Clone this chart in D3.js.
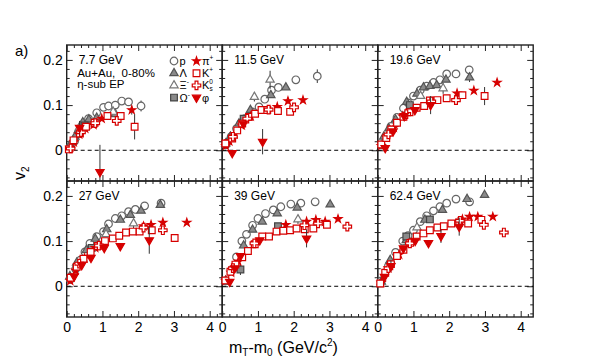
<!DOCTYPE html>
<html lang="en">
<head>
<meta charset="UTF-8">
<title>v2 vs mT-m0</title>
<style>
  body { margin: 0; background: #fff; }
  svg { font-family: "Liberation Sans", Arial, sans-serif; }
  .tick text { font-size: 14px; fill: #000; }
  .tick line { stroke: #222; stroke-width: 1; }
</style>
</head>
<body>
<script src="https://cdn.jsdelivr.net/npm/d3@7"></script>
<script>
// panel labels and ticks
const energies = ["7.7 GeV", "11.5 GeV", "19.6 GeV", "27 GeV", "39 GeV", "62.4 GeV"];
const xTicks = [0, 1, 2, 3, 4];
const yTicks = [0, 0.1, 0.2];
const yTickLabels = ["0", "0.1", "0.2"];

// [mT-m0, v2, error] for each energy, in the order of `energies`
const proton = [
  [[0.1,0.008],[0.22,0.02],[0.35,0.037],[0.48,0.055],[0.61,0.07],[0.84,0.083],[1.03,0.095],[1.17,0.098],[1.36,0.1],[1.54,0.109],[1.73,0.107],[2.08,0.098,0.012]],
  [[0.1,0.012],[0.25,0.03],[0.4,0.048],[0.52,0.06],[0.63,0.07],[0.84,0.085],[1.03,0.096],[1.19,0.113],[1.38,0.133],[1.57,0.139],[2.06,0.156],[2.66,0.164,0.015]],
  [[0.1,0.012],[0.22,0.028],[0.37,0.053],[0.54,0.073],[0.72,0.093],[0.85,0.105],[1.0,0.12],[1.19,0.133],[1.37,0.142],[1.56,0.15],[1.74,0.156],[1.93,0.169],[2.19,0.169],[2.56,0.178]],
  [[0.1,0.015],[0.25,0.038],[0.38,0.058],[0.51,0.076],[0.65,0.095],[0.84,0.11],[1.03,0.121],[1.17,0.138],[1.36,0.15],[1.54,0.156],[1.73,0.165],[1.92,0.17],[2.18,0.178],[2.64,0.184]],
  [[0.1,0.012],[0.25,0.035],[0.4,0.065],[0.55,0.1],[0.68,0.115],[0.85,0.135],[1.0,0.15],[1.21,0.161],[1.43,0.169],[1.64,0.176],[1.92,0.182],[2.2,0.184],[2.6,0.187]],
  [[0.1,0.012],[0.3,0.045],[0.5,0.075],[0.7,0.1],[0.85,0.112],[1.0,0.124],[1.19,0.143],[1.37,0.156],[1.56,0.167],[1.74,0.176],[1.93,0.184],[2.19,0.193],[2.57,0.187]]
];
const lambda = [
  [[0.1,0.012],[0.23,0.03],[0.33,0.045],[0.45,0.062],[0.62,0.068],[0.84,0.072],[1.36,0.08]],
  [[0.1,0.015],[0.23,0.03],[0.47,0.059],[0.79,0.089],[1.36,0.122],[1.78,0.139]],
  [[0.17,0.03],[0.31,0.048],[0.5,0.068],[0.81,0.107],[1.1,0.125],[1.28,0.139],[1.46,0.142],[1.65,0.144],[1.91,0.156],[2.57,0.161,0.01]],
  [[0.09,0.022],[0.28,0.052],[0.55,0.08],[0.8,0.105],[1.12,0.126],[1.5,0.147],[1.78,0.158],[2.08,0.167],[2.62,0.18]],
  [[0.1,0.012],[0.3,0.04],[0.6,0.09],[0.85,0.125],[1.12,0.143],[1.54,0.161],[2.1,0.174],[3.02,0.181]],
  [[0.1,0.01],[0.35,0.058],[0.8,0.102],[1.32,0.147],[1.81,0.169],[2.5,0.193],[2.99,0.202]]
];
const xi = [
  [[0.35,0.05],[1.3,0.085]],
  [[0.9,0.118,0.01],[1.34,0.156,0.02]],
  [[1.2,0.12],[1.83,0.137,0.012]],
  [[1.1,0.115],[1.87,0.139,0.01]],
  [[2.12,0.148,0.01]],
  [[1.1,0.13]]
];
const omega = [
  [[0.5,0.055]],
  [[0.6,0.07]],
  [[0.9,0.1]],
  [[0.7,0.085]],
  [[0.51,0.037,0.012],[1.56,0.133]],
  [[0.8,0.11],[1.46,0.148]]
];
const pion = [
  [[0.1,0.006],[0.2,0.018],[0.35,0.035],[0.52,0.048],[0.75,0.056],[0.98,0.07],[1.82,0.089,0.01]],
  [[0.1,0.01],[0.2,0.02],[0.35,0.036],[0.55,0.055],[0.8,0.075],[1.54,0.096],[1.84,0.109],[2.26,0.111]],
  [[0.1,0.01],[0.25,0.028],[0.45,0.05],[0.7,0.075],[2.22,0.126],[2.69,0.132],[3.34,0.15]],
  [[0.1,0.012],[0.25,0.035],[0.5,0.062],[0.8,0.085],[2.15,0.133],[2.36,0.136],[2.69,0.141],[3.36,0.141]],
  [[0.1,0.012],[0.25,0.03],[0.45,0.055],[1.78,0.136],[2.36,0.143],[2.62,0.147],[2.88,0.143],[3.24,0.149]],
  [[0.1,0.008],[0.3,0.04],[0.6,0.07],[2.37,0.148],[2.57,0.154],[2.8,0.154],[3.22,0.154]]
];
const kaon = [
  [[0.06,0.002],[0.19,0.022],[0.37,0.037],[0.54,0.052],[0.78,0.061],[1.14,0.076],[1.51,0.076],[1.9,0.052,0.028]],
  [[0.09,0.015],[0.28,0.026],[0.42,0.044],[0.56,0.059],[0.75,0.074],[0.92,0.081],[1.1,0.089],[1.26,0.089],[1.56,0.087],[1.9,0.085]],
  [[0.1,0.013],[0.24,0.027],[0.38,0.046],[0.54,0.061],[0.72,0.074],[0.89,0.084],[1.09,0.094],[1.3,0.098],[1.46,0.11],[1.67,0.111],[1.93,0.115],[2.37,0.122],[2.99,0.12,0.02]],
  [[0.11,0.019],[0.28,0.043],[0.47,0.061],[0.67,0.076],[0.87,0.089],[1.07,0.1],[1.29,0.106],[1.47,0.112],[1.66,0.119],[1.85,0.121],[2.04,0.121],[2.38,0.124],[3.02,0.107]],
  [[0.09,0.013],[0.23,0.032],[0.37,0.048],[0.56,0.064],[0.72,0.078],[0.91,0.093],[1.12,0.11],[1.31,0.11],[1.52,0.121],[1.71,0.123],[1.9,0.124],[2.08,0.128],[2.31,0.126],[2.55,0.128],[2.93,0.136]],
  [[0.07,0.006],[0.21,0.03],[0.37,0.049],[0.54,0.067],[0.72,0.081],[0.91,0.096],[1.09,0.11],[1.28,0.117],[1.46,0.124],[1.67,0.13],[1.85,0.133],[2.06,0.139],[2.28,0.141],[2.53,0.139],[2.9,0.147]]
];
const k0s = [
  [[0.11,0.004],[0.4,0.04],[0.8,0.06],[1.4,0.065]],
  [[0.3,0.03],[0.7,0.07],[1.3,0.09],[2.01,0.095]],
  [[0.3,0.035],[0.8,0.08],[1.5,0.108],[2.19,0.111]],
  [[0.35,0.05],[0.9,0.09],[2.15,0.13],[2.69,0.124]],
  [[0.3,0.04],[0.9,0.095],[2.3,0.135],[2.68,0.139],[3.5,0.132]],
  [[0.3,0.04],[0.9,0.095],[2.3,0.145],[2.97,0.136],[3.53,0.119]]
];
const phi = [
  [[0.36,0.05,0.015],[0.93,-0.048,0.06]],
  [[0.28,-0.006],[0.59,0.059],[1.13,0.019,0.028]],
  [[0.21,0.005],[0.43,0.042],[0.74,0.076],[1.04,0.089],[1.48,0.1,0.02]],
  [[0.21,0.022],[0.42,0.047],[0.68,0.063],[1.05,0.085],[1.5,0.089],[2.31,0.102,0.03]],
  [[0.21,0.01],[0.35,0.04],[0.51,0.067],[1.05,0.102],[2.36,0.106,0.02]],
  [[0.19,0.021],[0.37,0.045,0.012],[0.72,0.084],[1.05,0.101],[1.42,0.096],[1.77,0.111,0.015],[2.28,0.132,0.02]]
];

// marker styles
const red = "#d60000";
const series = [
  { data: proton, type: d3.symbolCircle,   size: 45, fill: "#fff",  stroke: "#666", rot: 0 },
  { data: lambda, type: d3.symbolTriangle, size: 30, fill: "#8a8a8a", stroke: "#555", rot: 0 },
  { data: xi,     type: d3.symbolTriangle, size: 30, fill: "#fff",  stroke: "#777", rot: 0 },
  { data: omega,  type: d3.symbolSquare,   size: 45, fill: "#8a8a8a", stroke: "#444", rot: 0 },
  { data: pion,   type: d3.symbolStar,     size: 19, fill: red, stroke: red, rot: 0 },
  { data: kaon,   type: d3.symbolSquare,   size: 45, fill: "#fff", stroke: red, rot: 0 },
  { data: k0s,    type: d3.symbolCross,    size: 40, fill: "#fff", stroke: red, rot: 0 },
  { data: phi,    type: d3.symbolTriangle, size: 30, fill: red, stroke: red, rot: 180 }
];

const width = 600, height = 363;
const left = 66.7, pw = 155.5;
const rowTop = [45, 181], ph = 136;
const xDomain = [0, 4.35], yDomain = [-0.068, 0.233];

const xMinor = d3.range(0.2, 4.3, 0.2).filter(v => Math.abs(v - Math.round(v)) > 0.01);
const yMinor = d3.range(-0.06, 0.23, 0.02).filter(v => Math.abs(v * 10 - Math.round(v * 10)) > 0.01);

const svg = d3.select("body").append("svg")
    .attr("width", width)
    .attr("height", height);

function addAxis(g, axis, tx, ty) {
    g.append("g")
        .attr("transform", "translate(" + tx + "," + ty + ")")
        .call(axis)
        .call(s => s.select(".domain").remove());
}

energies.forEach((label, i) => {
    const col = i % 3, row = Math.floor(i / 3);
    const x = d3.scaleLinear().domain(xDomain).range([left + col * pw, left + (col + 1) * pw]);
    const y = d3.scaleLinear().domain(yDomain).range([rowTop[row] + ph, rowTop[row]]);
    const x0 = x.range()[0], x1 = x.range()[1];
    const yb = y.range()[0], yt = y.range()[1];
    const g = svg.append("g");
    const none = () => "";

    // ticks, pointing inwards on all four sides
    addAxis(g, d3.axisLeft(y).tickValues(yTicks).tickSize(-6).tickPadding(4)
        .tickFormat(col === 0 ? (d, k) => yTickLabels[k] : none), x0, 0);
    addAxis(g, d3.axisLeft(y).tickValues(yMinor).tickSize(-3).tickFormat(none), x0, 0);
    addAxis(g, d3.axisRight(y).tickValues(yTicks).tickSize(-6).tickFormat(none), x1, 0);
    addAxis(g, d3.axisRight(y).tickValues(yMinor).tickSize(-3).tickFormat(none), x1, 0);
    addAxis(g, d3.axisBottom(x).tickValues(xTicks).tickSize(-6).tickPadding(5)
        .tickFormat(row === 1 ? d3.format("d") : none), 0, yb);
    addAxis(g, d3.axisBottom(x).tickValues(xMinor).tickSize(-3).tickFormat(none), 0, yb);
    addAxis(g, d3.axisTop(x).tickValues(xTicks).tickSize(-6).tickFormat(none), 0, yt);
    addAxis(g, d3.axisTop(x).tickValues(xMinor).tickSize(-3).tickFormat(none), 0, yt);

    g.append("rect")
        .attr("x", x0).attr("y", yt)
        .attr("width", x1 - x0).attr("height", yb - yt)
        .attr("fill", "none").attr("stroke", "#222").attr("stroke-width", 1.4);

    g.append("line")
        .attr("x1", x0).attr("x2", x1)
        .attr("y1", y(0)).attr("y2", y(0))
        .attr("stroke", "#000").attr("stroke-dasharray", "4,3");

    g.append("text")
        .attr("x", x0 + 12).attr("y", yt + 18.5)
        .attr("font-size", 12)
        .text(label);

    // markers
    const clampY = v => Math.max(yDomain[0], Math.min(yDomain[1], v));
    series.forEach(s => {
        const pts = s.data[i];
        g.selectAll(null)
            .data(pts.filter(d => d[2]))
            .enter().append("line")
            .attr("x1", d => x(d[0])).attr("x2", d => x(d[0]))
            .attr("y1", d => y(clampY(d[1] - d[2])))
            .attr("y2", d => y(clampY(d[1] + d[2])))
            .attr("stroke", "#333").attr("stroke-width", 1);
        g.selectAll(null)
            .data(pts)
            .enter().append("path")
            .attr("d", d3.symbol().type(s.type).size(s.size))
            .attr("transform", d => "translate(" + x(d[0]) + "," + y(d[1]) + ") rotate(" + s.rot + ")")
            .attr("fill", s.fill)
            .attr("stroke", s.stroke)
            .attr("stroke-width", 1.2);
    });
});

// description and legend in the first panel
const info = ["Au+Au,\u00a0 0-80%", "\u03b7-sub EP"];
svg.selectAll(".info")
    .data(info)
    .enter().append("text")
    .attr("x", left + 10.5).attr("y", (d, k) => 76.5 + k * 11.8)
    .attr("font-size", 11.5)
    .text(d => d);

const legendRows = [
    [{ s: 0, t: "p" }, { s: 4, t: "\u03c0", sup: "+" }],
    [{ s: 1, t: "\u039b" }, { s: 5, t: "K", sup: "+" }],
    [{ s: 2, t: "\u039e", sup: "-" }, { s: 6, t: "K", sup: "0", sub: "s" }],
    [{ s: 3, t: "\u03a9", sup: "-" }, { s: 7, t: "\u03c6" }]
];
const legX = [174, 196.5];
legendRows.forEach((r, k) => {
    const ly = 61 + k * 12.2;
    r.forEach((e, c) => {
        const s = series[e.s];
        svg.append("path")
            .attr("d", d3.symbol().type(s.type).size(s.size))
            .attr("transform", "translate(" + legX[c] + "," + ly + ") rotate(" + s.rot + ")")
            .attr("fill", s.fill).attr("stroke", s.stroke).attr("stroke-width", 1.2);
        const t = svg.append("text")
            .attr("x", legX[c] + 5.5).attr("y", ly + 4)
            .attr("font-size", 11);
        t.append("tspan").text(e.t);
        if (e.sup) t.append("tspan").attr("font-size", 6.5).attr("dy", -5).text(e.sup);
        if (e.sub) t.append("tspan").attr("font-size", 6.5).attr("dx", -3.5).attr("dy", 7).text(e.sub);
    });
});

// axis titles
svg.append("text")
    .attr("x", 15).attr("y", 56)
    .attr("font-size", 15)
    .text("a)");

const vt = svg.append("text")
    .attr("transform", "translate(25,180) rotate(-90)")
    .attr("font-size", 16);
vt.append("tspan").text("v");
vt.append("tspan").attr("font-size", 10).attr("dy", 4).text("2");

const xt = svg.append("text")
    .attr("x", 229).attr("y", 353)
    .attr("font-size", 16);
xt.append("tspan").text("m");
xt.append("tspan").attr("font-size", 10).attr("dy", 3).text("T");
xt.append("tspan").attr("dy", -3).text("-m");
xt.append("tspan").attr("font-size", 10).attr("dy", 3).text("0");
xt.append("tspan").attr("dy", -3).text(" (GeV/c");
xt.append("tspan").attr("font-size", 10).attr("dy", -7).text("2");
xt.append("tspan").attr("dy", 7).text(")");
</script>
</body>
</html>
